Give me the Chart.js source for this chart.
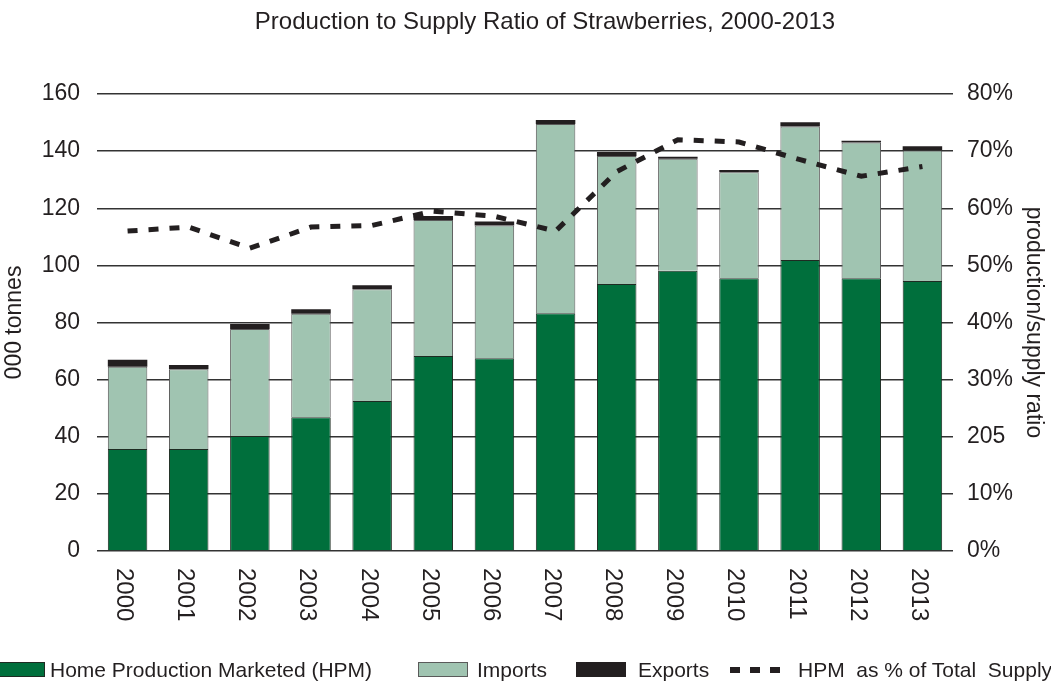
<!DOCTYPE html>
<html>
<head>
<meta charset="utf-8">
<script src="https://cdn.jsdelivr.net/npm/chart.js@4.4.1/dist/chart.umd.min.js"></script>
<style>
  body { margin: 0; background: #fff; overflow: hidden; }
  #wrap { position: relative; width: 1051px; height: 684px; overflow: hidden; font-family: "Liberation Sans", Arial, sans-serif; color: #231F20; }
  .lg { position: absolute; white-space: pre; font-size: 21px; line-height: 21px; }
  .box { position: absolute; height: 15px; box-sizing: border-box; }
</style>
</head>
<body>
<div id="wrap">
  <canvas id="c"></canvas>
  <div id="legend"></div>
</div>
<script>
// Strawberry chart data
var years = ['2000','2001','2002','2003','2004','2005','2006','2007','2008','2009','2010','2011','2012','2013'];
var hpm     = [35.7, 35.7, 40.3, 46.8, 52.5, 68.3, 67.5, 83.2, 93.5, 98.1, 95.5, 101.9, 95.5, 94.5];
var imports = [28.8, 27.9, 37.4, 36.3, 39.1, 47.6, 46.5, 66.3, 44.8, 39.2, 37.1, 46.7, 47.5, 45.7];
var exports = [2.5, 1.5, 1.8, 1.5, 1.4, 1.4, 1.4, 1.4, 1.4, 0.7, 0.8, 1.5, 0.6, 1.5];
var ratio   = [56.0, 56.7, 53.0, 56.7, 57.0, 59.5, 58.6, 56.0, 66.4, 72.0, 71.6, 68.5, 65.6, 67.3];
var rightTickLabels = ['0%', '10%', '205', '30%', '40%', '50%', '60%', '70%', '80%'];

var title = 'Production to Supply Ratio of Strawberries, 2000-2013';
var labels = ['Home Production Marketed (HPM)', 'Imports', 'Exports', 'HPM  as % of Total  Supply'];
var green = '#006F3C', light = '#A0C4B1', dark = '#231F20';

// title + x labels (rotated clockwise, reading top to bottom)
var textPlugin = {
  id: 'texts',
  afterDraw: function(chart) {
    var ctx = chart.ctx, xs = chart.scales.x;
    ctx.save();
    ctx.fillStyle = dark;
    ctx.font = '24px "Liberation Sans", Arial, sans-serif';
    ctx.textAlign = 'center';
    ctx.textBaseline = 'alphabetic';
    ctx.fillText(title, 545, 29);

    ctx.textAlign = 'left';
    years.forEach(function(y, i) {
      ctx.save();
      ctx.translate(xs.getPixelForValue(i), 568);
      ctx.rotate(Math.PI / 2);
      ctx.fillText(y, 0, 10.6);
      ctx.restore();
    });
    ctx.restore();
  }
};

Chart.defaults.font.family = '"Liberation Sans", Arial, sans-serif';
Chart.defaults.color = dark;

new Chart(document.getElementById('c'), {
  type: 'bar',
  data: {
    labels: years,
    datasets: [
      { label: labels[3], type: 'line', data: ratio, yAxisID: 'y1', order: 0,
        borderColor: dark, borderWidth: 5, borderDash: [10, 11], borderCapStyle: 'butt',
        fill: false, tension: 0, pointRadius: 0 },
      { label: labels[0], data: hpm, backgroundColor: green, borderColor: '#1e2b22', borderWidth: 1, order: 1 },
      { label: labels[1], data: imports, backgroundColor: light, borderColor: '#5a5a5a', borderWidth: 1, order: 1 },
      { label: labels[2], data: exports, backgroundColor: dark, borderColor: dark, borderWidth: 0, order: 1 }
    ]
  },
  options: {
    responsive: true,
    maintainAspectRatio: false,
    animation: false,
    layout: { padding: { top: 94, left: 0, right: 0, bottom: 0 } },
    datasets: { bar: { categoryPercentage: 1, barPercentage: 0.646 } },
    plugins: {
      legend: { display: false },
      tooltip: { enabled: false },
      title: { display: false }
    },
    scales: {
      x: {
        stacked: true,
        offset: true,
        grid: { display: false },
        border: { display: false },
        ticks: { display: false },
        afterFit: function(s) { s.height = 133; }
      },
      y: {
        position: 'left',
        stacked: true,
        min: 0, max: 160,
        ticks: { stepSize: 20, padding: 17, font: { size: 23 }, color: dark },
        grid: { color: '#333', lineWidth: 1.5, drawTicks: false },
        border: { display: false },
        title: { display: true, text: '000 tonnes', font: { size: 23 }, color: dark, padding: { top: 1, bottom: 0 } },
        afterFit: function(s) { s.width = 97; }
      },
      y1: {
        position: 'right',
        min: 0, max: 80,
        ticks: {
          stepSize: 10, padding: 14, font: { size: 23 }, color: dark,
          callback: function(v) { return rightTickLabels[Math.round(v / 10)]; }
        },
        grid: { drawOnChartArea: false, drawTicks: false },
        border: { display: false },
        title: { display: true, text: 'production/supply ratio', font: { size: 23 }, color: dark, padding: { top: 4, bottom: 0 } },
        afterFit: function(s) { s.width = 98; }
      }
    }
  },
  plugins: [textPlugin]
});

// legend under the plot, running off both edges like the original
var lg = document.getElementById('legend');
var items = [
  { box: -5, text: 50, style: 'background:' + green + ';border:1px solid #1e2b22;' },
  { box: 418, text: 477, style: 'background:' + light + ';border:1px solid #5a5a5a;' },
  { box: 576, text: 638, style: 'background:' + dark + ';' },
  { box: 730, text: 798, style: 'height:6px;top:667px;background:repeating-linear-gradient(90deg,' + dark + ' 0 10px,transparent 10px 20px);' }
];
items.forEach(function(it, i) {
  var b = document.createElement('div');
  b.className = 'box';
  b.style.cssText = 'left:' + it.box + 'px;top:662px;width:50px;' + it.style;
  lg.appendChild(b);
  var t = document.createElement('div');
  t.className = 'lg';
  t.style.left = it.text + 'px';
  t.style.top = '659px';
  t.textContent = labels[i];
  lg.appendChild(t);
});
</script>
</body>
</html>
